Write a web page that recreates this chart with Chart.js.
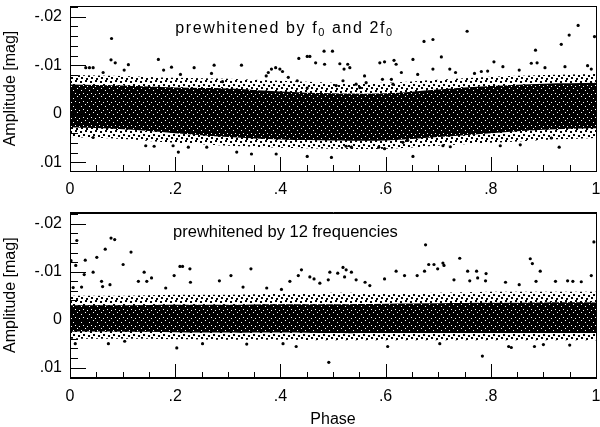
<!DOCTYPE html>
<html lang="en">
<head>
<meta charset="UTF-8">
<title>Phase diagrams</title>
<script src="https://cdn.jsdelivr.net/npm/chart.js"></script>
<style>
  body { margin: 0; background: #fff; }
  .wrap { position: relative; width: 600px; height: 427px; }
  canvas { position: absolute; left: 0; }
  #top { top: 0; }
  #bottom { top: 200px; }
</style>
</head>
<body>
<div class="wrap">
  <canvas id="top" width="600" height="200"></canvas>
  <canvas id="bottom" width="600" height="227"></canvas>
</div>
<script>
// axis ticks
const xTickValues = [0, 0.2, 0.4, 0.6, 0.8, 1];
const xTickLabels = ['0', '.2', '.4', '.6', '.8', '1'];
const yTickValues = [-0.02, -0.01, 0, 0.01];
const yTickLabels = ['-.02', '-.01', '0', '.01'];

// envelope of the dense cloud, read every 0.1 in phase
const envPhase = [0, 0.1, 0.2, 0.3, 0.4, 0.5, 0.6, 0.7, 0.8, 0.9, 1.0];

const topCoreHi = [-0.0060, -0.0058, -0.0054, -0.0052, -0.0046, -0.0042, -0.0042, -0.0050, -0.0057, -0.0062, -0.0064];
const topCoreLo = [0.0028, 0.0032, 0.0040, 0.0048, 0.0053, 0.0055, 0.0055, 0.0048, 0.0040, 0.0033, 0.0030];
const topHaloHi = [-0.0080, -0.0078, -0.0074, -0.0072, -0.0068, -0.0064, -0.0064, -0.0070, -0.0076, -0.0080, -0.0082];
const topHaloLo = [0.0048, 0.0052, 0.0060, 0.0066, 0.0070, 0.0072, 0.0072, 0.0066, 0.0060, 0.0054, 0.0050];

const botCoreHi = [-0.0030, -0.0030, -0.0031, -0.0031, -0.0032, -0.0032, -0.0033, -0.0034, -0.0035, -0.0036, -0.0036];
const botCoreLo = [0.0025, 0.0025, 0.0026, 0.0027, 0.0027, 0.0028, 0.0028, 0.0028, 0.0028, 0.0028, 0.0028];
const botHaloHi = [-0.0050, -0.0050, -0.0052, -0.0052, -0.0054, -0.0056, -0.0055, -0.0056, -0.0058, -0.0058, -0.0058];
const botHaloLo = [0.0040, 0.0040, 0.0041, 0.0042, 0.0042, 0.0043, 0.0043, 0.0043, 0.0043, 0.0043, 0.0043];

// isolated points outside the cloud (phase, amplitude)
const topOutPhase = [0.079, 0.078, 0.086, 0.111, 0.103, 0.030, 0.037, 0.044, 0.168, 0.178, 0.193, 0.210, 0.236, 0.063,
  0.144, 0.160, 0.044, 0.206, 0.196, 0.225,
  0.483, 0.499, 0.451, 0.456, 0.435, 0.467, 0.484, 0.274, 0.326, 0.269, 0.290, 0.377, 0.383, 0.391, 0.399, 0.404, 0.373,
  0.432, 0.415, 0.513, 0.521, 0.528, 0.532, 0.519, 0.506, 0.560, 0.563, 0.589, 0.598, 0.616, 0.620, 0.594, 0.611, 0.614,
  0.544, 0.551, 0.451,
  0.497, 0.451, 0.392, 0.525, 0.535, 0.345, 0.260, 0.317, 0.587, 0.598,
  0.755, 0.966, 0.997, 0.949, 0.934, 0.673, 0.690, 0.885, 0.706, 0.652, 0.806, 0.877, 0.888, 0.941, 0.984, 0.903, 0.823,
  0.794, 0.722, 0.690, 0.661, 0.630, 0.733, 0.769, 0.782, 0.854, 0.991,
  0.652, 0.818, 0.856, 0.930, 0.915, 0.709, 0.723, 0.633, 0.642];
const topOutAmp = [-0.0155, -0.0111, -0.0105, -0.0101, -0.0090, -0.0095, -0.0095, -0.0095, -0.0112, -0.0090, -0.0096, -0.0081, -0.0095, -0.0085,
  0.0066, 0.0067, 0.0049, 0.0079, 0.0066, 0.0069,
  -0.0129, -0.0129, -0.0118, -0.0118, -0.0114, -0.0105, -0.0102, -0.0100, -0.0100, -0.0083, -0.0066, -0.0085, -0.0092, -0.0095, -0.0092, -0.0087, -0.0078,
  -0.0068, -0.0075, -0.0103, -0.0092, -0.0102, -0.0095, -0.0068, -0.0058, -0.0078, -0.0064, -0.0105, -0.0107, -0.0110, -0.0102, -0.0071, -0.0071, -0.0061,
  -0.0061, -0.0054, -0.0053,
  0.0090, 0.0088, 0.0083, 0.0067, 0.0069, 0.0083, 0.0069, 0.0079, 0.0069, 0.0072,
  -0.0170, -0.0182, -0.0159, -0.0162, -0.0143, -0.0149, -0.0153, -0.0131, -0.0117, -0.0112, -0.0107, -0.0104, -0.0105, -0.0097, -0.0099, -0.0095, -0.0097,
  -0.0088, -0.0092, -0.0092, -0.0081, -0.0085, -0.0085, -0.0083, -0.0087, -0.0090, -0.0092,
  0.0088, 0.0066, 0.0064, 0.0069, 0.0050, 0.0066, 0.0068, 0.0059, 0.0055];

const botOutPhase = [0.002, 0.013, 0.011, 0.029, 0.051, 0.067, 0.078, 0.085, 0.116, 0.101, 0.027, 0.044, 0.006, 0.022,
  0.060, 0.062, 0.076, 0.141, 0.130, 0.146, 0.155, 0.198, 0.209, 0.214, 0.228, 0.182, 0.229,
  0.010, 0.073, 0.203, 0.104,
  0.344, 0.440, 0.434, 0.519, 0.525, 0.535, 0.509, 0.522, 0.494, 0.491, 0.456, 0.464, 0.475, 0.598, 0.620, 0.306, 0.284,
  0.329, 0.374, 0.402, 0.544, 0.561, 0.570, 0.418,
  0.492, 0.430, 0.252, 0.336, 0.604, 0.405,
  0.996, 0.676, 0.741, 0.875, 0.879, 0.682, 0.692, 0.699, 0.709, 0.711, 0.674, 0.636, 0.660, 0.756, 0.760, 0.773, 0.775,
  0.791, 0.790, 0.894, 0.886, 0.730, 0.828, 0.854, 0.923, 0.946, 0.972, 0.991, 0.956,
  0.784, 0.834, 0.839, 0.883, 0.900, 0.950, 0.703];
const botOutAmp = [-0.0123, -0.0165, -0.0113, -0.0124, -0.0130, -0.0147, -0.0170, -0.0167, -0.0141, -0.0115, -0.0094, -0.0099, -0.0067, -0.0068,
  -0.0080, -0.0069, -0.0073, -0.0099, -0.0080, -0.0080, -0.0087, -0.0092, -0.0111, -0.0111, -0.0106, -0.0066, -0.0078,
  0.0050, 0.0050, 0.0059, 0.0045,
  -0.0106, -0.0104, -0.0092, -0.0109, -0.0104, -0.0099, -0.0097, -0.0089, -0.0099, -0.0083, -0.0089, -0.0085, -0.0076, -0.0085, -0.0101, -0.0092, -0.0081,
  -0.0068, -0.0066, -0.0063, -0.0083, -0.0078, -0.0071, -0.0080,
  0.0089, 0.0056, 0.0050, 0.0051, 0.0056, 0.0050,
  -0.0162, -0.0156, -0.0128, -0.0127, -0.0117, -0.0115, -0.0115, -0.0106, -0.0118, -0.0113, -0.0101, -0.0092, -0.0092, -0.0101, -0.0081, -0.0101, -0.0087,
  -0.0096, -0.0081, -0.0101, -0.0080, -0.0083, -0.0078, -0.0073, -0.0080, -0.0081, -0.0079, -0.0092, -0.0080,
  0.0076, 0.0056, 0.0058, 0.0056, 0.0052, 0.0053, 0.0050];

const FONT = "'Liberation Sans', Arial, Helvetica, sans-serif";
const AXIS = '#000';

// small tiles to give the bands a speckled look
function makePattern(size, dots, ink, paper) {
  const c = document.createElement('canvas');
  c.width = size; c.height = size;
  const g = c.getContext('2d');
  g.fillStyle = paper; g.fillRect(0, 0, size, size);
  g.fillStyle = ink;
  dots.forEach(d => g.fillRect(d[0], d[1], d[2], d[2]));
  return g.createPattern(c, 'repeat');
}
const corePattern = makePattern(8, [[1, 2, 1], [5, 0, 1], [3, 5, 1], [7, 6, 1]], '#fff', '#000');
const haloPattern = makePattern(10, [[0, 1, 2], [5, 0, 2], [3, 4, 2], [8, 5, 2], [1, 7, 2], [6, 8, 2]], '#000', 'rgba(255,255,255,0)');

function xy(xs, ys) { return xs.map((v, i) => ({ x: v, y: ys[i] })); }

// no label overflow padding: the plot box is fixed by hand
function noPad(s) { s.paddingTop = s.paddingBottom = s.paddingLeft = s.paddingRight = 0; }

// grid must be "on" so the border gets drawn, but no lines or tick marks
const bareGrid = { display: true, drawOnChartArea: false, drawTicks: false, color: 'rgba(0,0,0,0)' };

// frame and inward tick marks, on top of the cloud
const ticksIn = {
  id: 'ticksIn',
  afterDraw(chart) {
    const { ctx, chartArea: a, scales: { x, y } } = chart;
    const L = Math.round(a.left), T = Math.round(a.top), R = Math.round(a.right), B = Math.round(a.bottom);
    ctx.save();
    ctx.globalAlpha = 1;
    ctx.globalCompositeOperation = 'source-over';
    ctx.fillStyle = AXIS;
    ctx.fillRect(L, T, R - L + 1, 1);
    ctx.fillRect(L, B, R - L + 1, 1);
    ctx.fillRect(L, T, 1, B - T + 1);
    ctx.fillRect(R, T, 1, B - T + 1);
    for (let k = 0; k <= 20; k++) {
      const px = Math.round(x.getPixelForValue(k * 0.05));
      const len = k % 4 === 0 ? 15 : 7;
      ctx.fillRect(px, B - len + 1, 1, len);
    }
    for (let k = -11; k <= 5; k++) {
      const py = Math.round(y.getPixelForValue(k * 0.002));
      const len = k % 5 === 0 ? 16 : 8;
      ctx.fillRect(L, py, len, 1);
    }
    ctx.restore();
  }
};

// axis titles and the panel note
const texts = {
  id: 'texts',
  afterDraw(chart, args, o) {
    const { ctx, chartArea: a, scales: { x, y } } = chart;
    ctx.save();
    ctx.fillStyle = '#000';
    ctx.save();
    ctx.translate(11, (a.top + a.bottom) / 2);
    ctx.rotate(-Math.PI / 2);
    ctx.font = '16px ' + FONT;
    ctx.textAlign = 'center';
    ctx.textBaseline = 'middle';
    ctx.fillText('Amplitude [mag]', 0, 0);
    ctx.restore();

    if (o.xTitle) {
      ctx.font = '16px ' + FONT;
      ctx.textAlign = 'center';
      ctx.textBaseline = 'middle';
      ctx.fillText(o.xTitle, (a.left + a.right) / 2, o.xTitleY);
    }

    // note, one glyph at a time so the spacing can be widened
    let px = x.getPixelForValue(o.noteAt[0]);
    const py = y.getPixelForValue(o.noteAt[1]);
    ctx.textAlign = 'left';
    ctx.textBaseline = 'middle';
    o.note.forEach(part => {
      ctx.font = (part[1] ? '11px ' : o.noteSize + ' ') + FONT;
      for (const ch of part[0]) {
        ctx.fillText(ch, px, part[1] ? py + 4 : py);
        px += ctx.measureText(ch).width + o.spacing;
      }
    });
    ctx.restore();
  }
};

function panel(id, p) {
  const frameAxis = (pos, fitter) => ({
    type: 'linear', position: pos, display: true,
    min: pos === 'top' ? 0 : p.yMin, max: pos === 'top' ? 1 : p.yMax,
    ticks: { display: false },
    grid: bareGrid,
    border: { display: true, color: AXIS, width: 1 },
    afterFit: s => { fitter(s); noPad(s); }
  });
  return new Chart(document.getElementById(id), {
    type: 'line',
    data: {
      datasets: [
        { data: xy(p.outX, p.outY), showLine: false, pointRadius: 1.6, pointBackgroundColor: '#000', pointBorderWidth: 0 },
        { data: xy(envPhase, p.coreHi), fill: '+1', backgroundColor: corePattern, borderWidth: 0, pointRadius: 0, tension: 0.35 },
        { data: xy(envPhase, p.coreLo), borderWidth: 0, pointRadius: 0, tension: 0.35 },
        { data: xy(envPhase, p.haloHi), fill: '+1', backgroundColor: haloPattern, borderWidth: 0, pointRadius: 0, tension: 0.35 },
        { data: xy(envPhase, p.haloLo), borderWidth: 0, pointRadius: 0, tension: 0.35 }
      ]
    },
    options: {
      responsive: false,
      animation: false,
      layout: { padding: { top: p.padTop, right: 3, left: 0, bottom: 0 } },
      plugins: {
        legend: { display: false },
        tooltip: { enabled: false },
        texts: p.deco
      },
      scales: {
        x: {
          type: 'linear', min: 0, max: 1,
          grid: bareGrid,
          border: { display: true, color: AXIS, width: 1 },
          afterBuildTicks: s => { s.ticks = xTickValues.map(v => ({ value: v })); },
          afterFit: s => { s.height = p.xHeight; noPad(s); },
          ticks: { callback: (v, i) => xTickLabels[i], padding: 9, color: '#000', font: { family: FONT, size: 16 }, maxRotation: 0 }
        },
        y: {
          type: 'linear', min: p.yMin, max: p.yMax, reverse: true,
          grid: bareGrid,
          border: { display: true, color: AXIS, width: 1 },
          afterBuildTicks: s => { s.ticks = yTickValues.map(v => ({ value: v })); },
          afterFit: s => { s.width = 70; noPad(s); },
          ticks: { callback: (v, i) => yTickLabels[i], padding: 8, color: '#000', font: { family: FONT, size: 16 } }
        },
        xTop: frameAxis('top', s => { s.height = 0; }),
        yRight: frameAxis('right', s => { s.width = 0; })
      }
    },
    plugins: [ticksIn, texts]
  });
}

panel('top', {
  outX: topOutPhase, outY: topOutAmp,
  coreHi: topCoreHi, coreLo: topCoreLo, haloHi: topHaloHi, haloLo: topHaloLo,
  yMin: -0.0222, yMax: 0.0118, padTop: 6, xHeight: 29,
  deco: {
    note: [['prewhitened by f', false], ['0', true], [' and 2f', false], ['0', true]],
    noteAt: [0.2, -0.0175], noteSize: '16px', spacing: 1.6
  }
});

panel('bottom', {
  outX: botOutPhase, outY: botOutAmp,
  coreHi: botCoreHi, coreLo: botCoreLo, haloHi: botHaloHi, haloLo: botHaloLo,
  yMin: -0.0223, yMax: 0.0121, padTop: 12.7, xHeight: 49.3,
  deco: {
    note: [['prewhitened by 12 frequencies', false]],
    noteAt: [0.196, -0.0182], noteSize: '16.5px', spacing: 0,
    xTitle: 'Phase', xTitleY: 220
  }
});
</script>
</body>
</html>
